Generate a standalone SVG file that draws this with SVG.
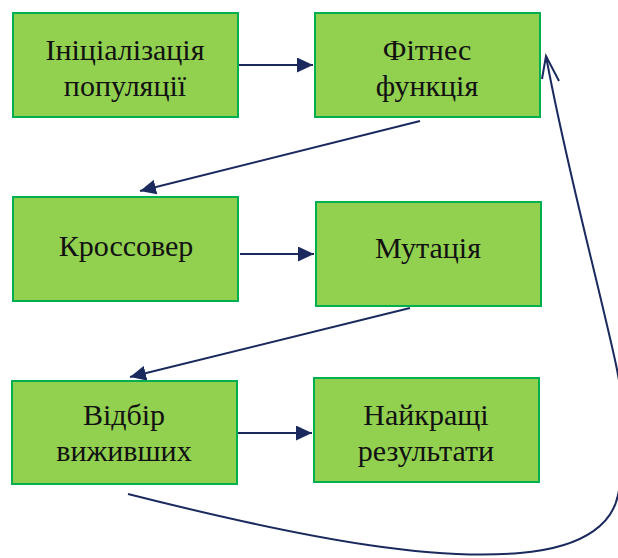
<svg xmlns="http://www.w3.org/2000/svg" width="618" height="558" viewBox="0 0 618 558">
  <style>
    .box { fill: #92D050; stroke: #00B050; stroke-width: 2; }
    .lbl { font-family: "Liberation Serif", "Times New Roman", serif; font-size: 30px; fill: #111; text-anchor: middle; }
    .conn { fill: none; stroke: #1B2A5E; stroke-width: 2; }
  </style>
  <defs>
    <marker id="tri" viewBox="0 0 16 15" refX="16" refY="7.5" markerWidth="16" markerHeight="15" markerUnits="userSpaceOnUse" orient="auto">
      <path d="M0,0 L16,7.5 L0,15 Z" fill="#1B2A5E"/>
    </marker>
  </defs>

  <g id="connectors">
    <line class="conn" x1="238" y1="65" x2="313" y2="65" marker-end="url(#tri)"/>
    <line class="conn" x1="420" y1="121" x2="140" y2="191" marker-end="url(#tri)"/>
    <line class="conn" x1="240" y1="254" x2="314" y2="254" marker-end="url(#tri)"/>
    <line class="conn" x1="410" y1="308" x2="130" y2="377" marker-end="url(#tri)"/>
    <line class="conn" x1="238" y1="433" x2="312" y2="433" marker-end="url(#tri)"/>
    <!-- feedback loop: survivors back to the fitness function (runs past the right edge) -->
    <path class="conn" d="M128,494 C330,545 440,560 520,553 C590,547 613,520 618,495 C628,450 624,400 615,360 C595,270 565,160 546,56"/>
    <path class="conn" d="M542,79 L546,56 L559,81"/>
  </g>

  <g id="init">
    <rect class="box" x="13" y="13" width="225" height="104"/>
    <text class="lbl" x="125" y="60">Ініціалізація</text>
    <text class="lbl" x="125" y="96">популяції</text>
  </g>
  <g id="fitness">
    <rect class="box" x="315" y="13" width="225" height="104"/>
    <text class="lbl" x="427" y="60">Фітнес</text>
    <text class="lbl" x="427" y="96">функція</text>
  </g>
  <g id="crossover">
    <rect class="box" x="13" y="197" width="225" height="104"/>
    <text class="lbl" x="126" y="256">Кроссовер</text>
  </g>
  <g id="mutation">
    <rect class="box" x="316" y="202" width="225" height="104"/>
    <text class="lbl" x="428" y="258">Мутація</text>
  </g>
  <g id="selection">
    <rect class="box" x="12" y="381" width="225" height="103"/>
    <text class="lbl" x="124" y="425">Відбір</text>
    <text class="lbl" x="124" y="461">виживших</text>
  </g>
  <g id="best">
    <rect class="box" x="314" y="378" width="225" height="104"/>
    <text class="lbl" x="426" y="425">Найкращі</text>
    <text class="lbl" x="426" y="461">результати</text>
  </g>
</svg>
